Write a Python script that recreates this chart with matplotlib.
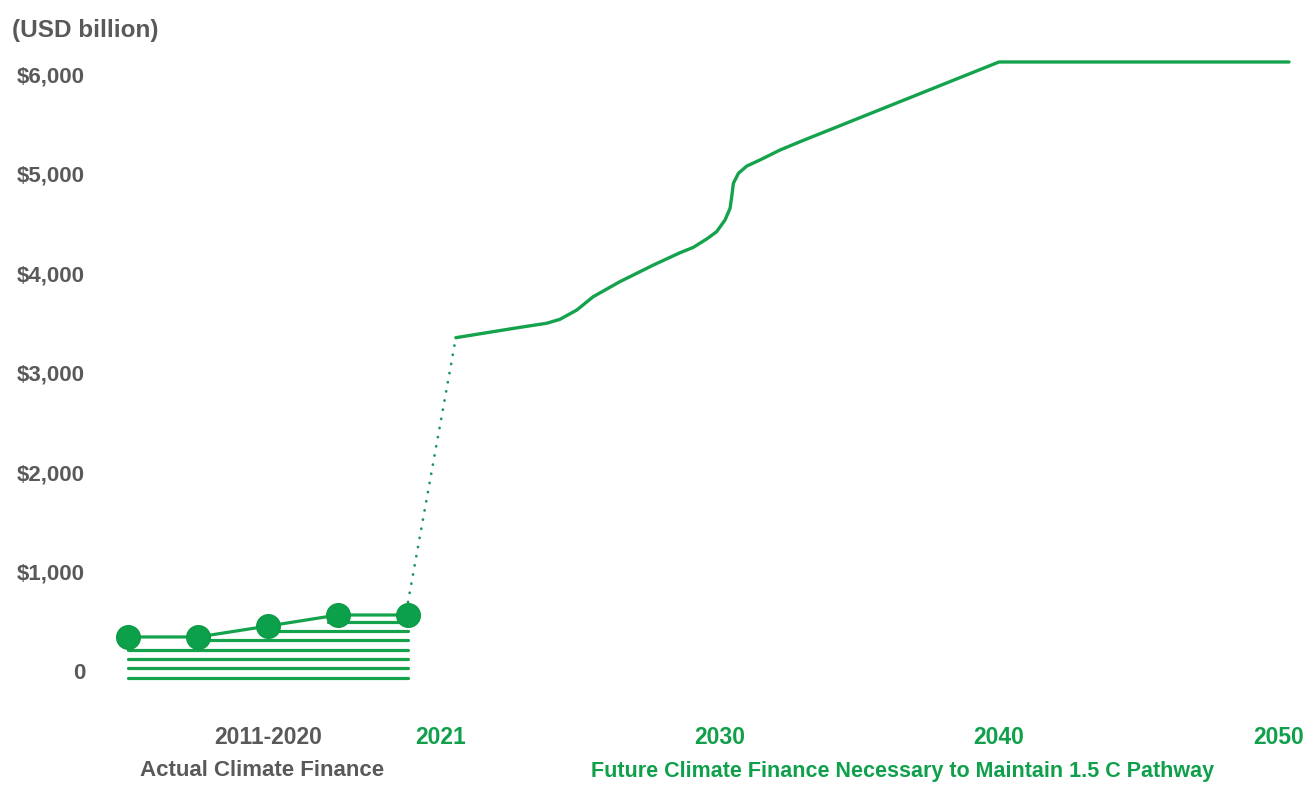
import numpy as np
import matplotlib.pyplot as plt

plt.rcParams['font.family'] = ['Liberation Sans', 'DejaVu Sans']
plt.rcParams['font.weight'] = 'bold'

GREEN = '#14a24c'
GREEN_TEXT = '#10a04b'
DOT_GREEN = '#1e9660'
GRAY = '#595959'

# actual climate finance (biennial, USD bn)
actual_years = [2011.5, 2013.5, 2015.5, 2017.5, 2019.5]
actual_vals = [342, 342, 452, 563, 563]

# required finance pathway to 2050 (USD bn)
future_years = [2021.48, 2022.47, 2023.55, 2024.41, 2024.84, 2025.38, 2025.91,
                2026.77, 2027.85, 2028.71, 2029.14, 2029.57, 2029.89, 2030.18,
                2030.36, 2030.42, 2030.48, 2030.66, 2030.96, 2031.43, 2032.15,
                2032.87, 2040.0, 2050.36]
future_vals = [3350, 3400, 3454, 3495, 3535, 3628, 3762, 3913, 4080, 4204,
               4258, 4342, 4415, 4533, 4650, 4767, 4902, 5002, 5075, 5136,
               5236, 5320, 6121, 6121]

yticks = [0, 1000, 2000, 3000, 4000, 5000, 6000]
xtick_labels = ['2011-2020', '2021', '2030', '2040', '2050']
xtick_years = [2015.5, 2021, 2030, 2040, 2050]
xtick_colors = [GRAY, GREEN_TEXT, GREEN_TEXT, GREEN_TEXT, GREEN_TEXT]

# the x axis is not linear in time: each segment gets its own width
seg_years = [2011.5, 2019.5, 2021, 2030, 2040, 2051]
seg_pos = [128, 408, 441, 720, 999, 1306.9]


def xpos(years):
    return np.interp(years, seg_years, seg_pos)


fig = plt.figure(figsize=(13.07, 7.89), dpi=100, facecolor='white')
ax = fig.add_axes([95 / 1307, 1 - 720.75 / 789, 1212 / 1307, 720.75 / 789])
ax.set_xlim(95, 1307)
ax.set_ylim(-500, 6744)

ax_x = xpos(actual_years)
fx = xpos(future_years)

# horizontal stripes under the actual series
grid = np.linspace(ax_x[0], ax_x[-1], 600)
curve = np.interp(grid, ax_x, actual_vals)
for level in np.arange(-67, max(actual_vals), 94):
    mask = curve > level + 50
    if not mask.any():
        continue
    edges = np.flatnonzero(np.diff(np.r_[0, mask.astype(int), 0]))
    for s, e in zip(edges[::2], edges[1::2]):
        ax.plot([grid[s], grid[e - 1]], [level, level], color=GREEN, lw=2.3,
                solid_capstyle='round', zorder=2)

ax.plot(ax_x, actual_vals, color=GREEN, lw=2.3, zorder=3)
ax.plot(ax_x, actual_vals, 'o', color='#0da04a', ms=17, mec='#0b9a45', zorder=4)

# dotted jump between actual and required
ax.plot([ax_x[-1], fx[0]], [actual_vals[-1] + 130, future_vals[0]], color=DOT_GREEN,
        lw=2.0, linestyle=(0, (0.05, 3.3)), dash_capstyle='round', zorder=3)

ax.plot(fx, future_vals, color=GREEN, lw=2.4, solid_capstyle='round',
        solid_joinstyle='round', zorder=3)

for side in ['top', 'right', 'left', 'bottom']:
    ax.spines[side].set_visible(False)

ax.set_yticks(yticks)
ax.set_yticklabels(['0' if v == 0 else '${:,}'.format(v) for v in yticks])
ax.tick_params(axis='y', length=0, pad=7.2, labelsize=16, labelcolor=GRAY)

ax.set_xticks(xpos(xtick_years))
ax.set_xticklabels(xtick_labels)
ax.tick_params(axis='x', length=0, pad=3.5, labelsize=16.5)
for lab, c in zip(ax.get_xticklabels(), xtick_colors):
    lab.set_color(c)

fig.text(12 / 1307, 1 - 30 / 789, '(USD billion)', fontsize=17.5, color=GRAY,
         ha='left', va='center')
fig.text(262 / 1307, 1 - 771 / 789, 'Actual Climate Finance', fontsize=16,
         color=GRAY, ha='center', va='center')
fig.text(903 / 1307, 1 - 771 / 789,
         'Future Climate Finance Necessary to Maintain 1.5 C Pathway',
         fontsize=15.5, color=GREEN_TEXT, ha='center', va='center')

fig.savefig('out.png', dpi=100, facecolor='white')
